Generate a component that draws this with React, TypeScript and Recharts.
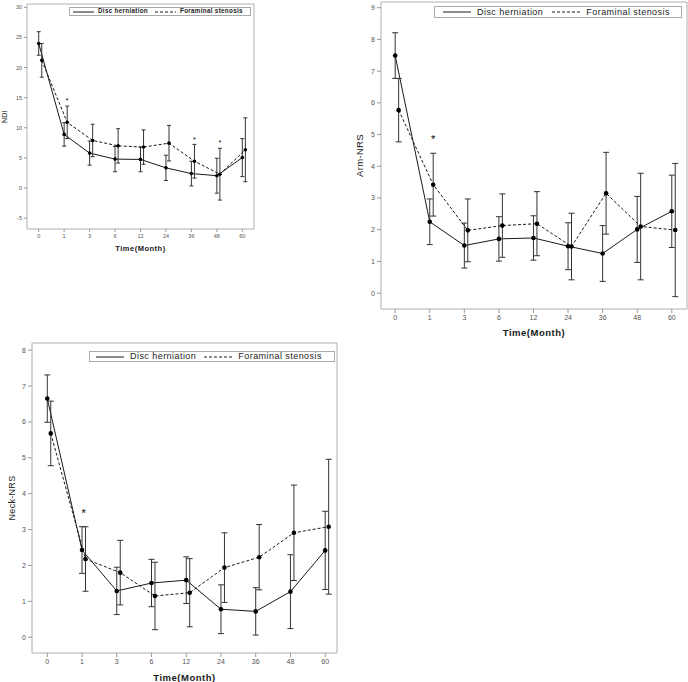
import { ComposedChart, Line, XAxis, YAxis, ErrorBar, ReferenceArea, Scatter } from "recharts";

const months = ["0", "1", "3", "6", "12", "24", "36", "48", "60"];

// NDI
const ndiDisc = [24.0, 8.9, 5.8, 4.8, 4.75, 3.35, 2.4, 2.05, 5.05];
const ndiDiscSd = [1.95, 1.95, 2.0, 2.1, 2.05, 2.1, 2.05, 2.9, 3.15];
const ndiForam = [21.2, 10.9, 7.9, 7.0, 6.8, 7.45, 4.45, 2.3, 6.35];
const ndiForamSd = [2.8, 2.7, 2.7, 2.85, 2.85, 2.95, 2.8, 4.3, 5.3];
const ndiStars = [{ x: 1.12, y: 14.6 }, { x: 6.12, y: 8.1 }, { x: 7.12, y: 7.7 }];

// Arm-NRS
const armDisc = [7.49, 2.25, 1.5, 1.71, 1.74, 1.48, 1.25, 2.01, 2.58];
const armDiscSd = [0.72, 0.72, 0.71, 0.7, 0.7, 0.74, 0.88, 1.04, 1.14];
const armForam = [5.77, 3.42, 1.98, 2.13, 2.19, 1.47, 3.15, 2.1, 1.99];
const armForamSd = [1.0, 0.99, 0.99, 1.0, 1.01, 1.05, 1.29, 1.68, 2.1];
const armStars = [{ x: 1.1, y: 4.88 }];

// Neck-NRS
const neckDisc = [6.65, 2.43, 1.29, 1.51, 1.59, 0.78, 0.72, 1.27, 2.42];
const neckDiscSd = [0.66, 0.65, 0.66, 0.66, 0.65, 0.68, 0.66, 1.03, 1.09];
const neckForam = [5.68, 2.18, 1.8, 1.15, 1.24, 1.94, 2.23, 2.91, 3.08];
const neckForamSd = [0.9, 0.9, 0.9, 0.94, 0.95, 0.97, 0.91, 1.33, 1.88];
const neckStars = [{ x: 1.05, y: 3.47 }];

const INK = "#1a1a1a";
const FONT = "'Liberation Sans', Arial, sans-serif";

function LegendBox({ left, top, width, height, font, bold, pad, lineW, gap, gap2 }: any) {
  const sample = (dash?: string) => (
    <svg width={lineW} height={4} style={{ display: "block" }}>
      <line x1={0} y1={2} x2={lineW} y2={2} stroke={INK} strokeWidth={1} strokeDasharray={dash} />
    </svg>
  );
  const txt = { fontSize: font, fontWeight: bold ? 700 : 400, letterSpacing: bold ? 0.3 : 0.45, color: INK, whiteSpace: "nowrap" as const };
  return (
    <div
      style={{
        position: "absolute", left, top, width, height, boxSizing: "border-box",
        border: "1px solid #aaa", background: "#fff", display: "flex", alignItems: "center",
        paddingLeft: pad, fontFamily: FONT, lineHeight: 1,
      }}
    >
      {sample()}
      <span style={{ ...txt, marginLeft: gap }}>Disc herniation</span>
      <span style={{ marginLeft: gap2 }}>{sample("3 2")}</span>
      <span style={{ ...txt, marginLeft: gap }}>Foraminal stenosis</span>
    </div>
  );
}

function Panel(p: any) {
  const disc = p.disc.map((y: number, i: number) => ({ x: i, y, err: p.discSd[i] }));
  const foram = p.foram.map((y: number, i: number) => ({ x: i + p.shift, y, err: p.foramSd[i] }));
  const tickStyle = { fill: "#555", fontSize: p.tickFont, fontFamily: FONT };
  return (
    <div style={{ position: "absolute", left: p.left, top: p.top, width: p.width, height: p.height }}>
      <ComposedChart width={p.width} height={p.height} margin={{ top: p.mTop, right: p.mRight, left: 0, bottom: 0 }}>
        <ReferenceArea
          x1={p.xDomain[0]} x2={p.xDomain[1]} y1={p.yDomain[0]} y2={p.yDomain[1]}
          fill="none" stroke="#b0b0b0" strokeWidth={1} ifOverflow="visible"
        />
        <XAxis
          type="number" dataKey="x" domain={p.xDomain} allowDataOverflow
          ticks={[0, 1, 2, 3, 4, 5, 6, 7, 8]} tickFormatter={(v: number) => months[v]}
          height={p.xAxisH} axisLine={false} tickLine={{ stroke: "#999" }} tickSize={p.tickSize}
          tickMargin={2} tick={tickStyle} interval={0}
          label={{
            value: "Time(Month)", position: "insideBottom", offset: p.xLabelOffset,
            style: { fontSize: p.titleFont, fontWeight: 700, fill: INK, letterSpacing: 0.5, fontFamily: FONT },
          }}
        />
        <YAxis
          type="number" dataKey="y" domain={p.yDomain} allowDataOverflow ticks={p.yTicks}
          width={p.yAxisW} axisLine={false} tickLine={{ stroke: "#999" }} tickSize={p.tickSize}
          tickMargin={2} tick={tickStyle} interval={0}
          label={{
            value: p.yTitle, angle: -90, position: "insideLeft", offset: p.yLabelOffset,
            style: { textAnchor: "middle", fontSize: p.yTitleFont, fill: INK, letterSpacing: 0.3, fontFamily: FONT },
          }}
        />
        <Line
          data={disc} dataKey="y" stroke={INK} strokeWidth={1} isAnimationActive={false}
          dot={{ r: p.dotR, fill: "#000", stroke: "#000", strokeWidth: 0 }} activeDot={false}
        >
          <ErrorBar dataKey="err" direction="y" width={p.cap} stroke="#333" strokeWidth={1} isAnimationActive={false} />
        </Line>
        <Line
          data={foram} dataKey="y" stroke={INK} strokeWidth={1} strokeDasharray="3 2" isAnimationActive={false}
          dot={{ r: p.dotR, fill: "#000", stroke: "#000", strokeWidth: 0, strokeDasharray: "" }} activeDot={false}
        >
          <ErrorBar dataKey="err" direction="y" width={p.cap} stroke="#333" strokeWidth={1} isAnimationActive={false} />
        </Line>
        <Scatter
          data={p.stars} dataKey="y" isAnimationActive={false}
          shape={(s: any) => (
            <text x={s.cx} y={s.cy + p.starFont * 0.42} textAnchor="middle" fontSize={p.starFont}
              fill="#000" stroke="none" fontFamily={FONT}>*</text>
          )}
        />
      </ComposedChart>
      <LegendBox {...p.legend} />
    </div>
  );
}

export default function App() {
  return (
    <div style={{ position: "absolute", left: 0, top: 0, width: 688, height: 682, background: "#fff" }}>
      <Panel
        left={0} top={0} width={262} height={256} mTop={4} mRight={8} yAxisW={27} xAxisH={27}
        xDomain={[-0.46, 8.46]} yDomain={[-6.8, 30.55]} yTicks={[-5, 0, 5, 10, 15, 20, 25, 30]}
        disc={ndiDisc} discSd={ndiDiscSd} foram={ndiForam} foramSd={ndiForamSd} shift={0.12}
        stars={ndiStars} yTitle="NDI" tickFont={5.5} titleFont={7.5} yTitleFont={7}
        tickSize={3} xLabelOffset={5} yLabelOffset={5} dotR={1.8} cap={2} starFont={7}
        legend={{ left: 69, top: 7, width: 182, height: 9, font: 6.3, bold: true, pad: 3, lineW: 21, gap: 4, gap2: 7 }}
      />
      <Panel
        left={345} top={0} width={343} height={338} mTop={2} mRight={1} yAxisW={36} xAxisH={29}
        xDomain={[-0.41, 8.44]} yDomain={[-0.5, 9.18]} yTicks={[0, 1, 2, 3, 4, 5, 6, 7, 8, 9]}
        disc={armDisc} discSd={armDiscSd} foram={armForam} foramSd={armForamSd} shift={0.1}
        stars={armStars} yTitle="Arm-NRS" tickFont={7} titleFont={9.5} yTitleFont={9.5}
        tickSize={4} xLabelOffset={2} yLabelOffset={15} dotR={2.3} cap={3} starFont={11}
        legend={{ left: 89, top: 6, width: 248, height: 12, font: 9, bold: false, pad: 8, lineW: 28, gap: 6, gap2: 9 }}
      />
      <Panel
        left={0} top={340} width={340} height={342} mTop={3} mRight={3} yAxisW={32} xAxisH={29}
        xDomain={[-0.44, 8.34]} yDomain={[-0.44, 8.2]} yTicks={[0, 1, 2, 3, 4, 5, 6, 7, 8]}
        disc={neckDisc} discSd={neckDiscSd} foram={neckForam} foramSd={neckForamSd} shift={0.1}
        stars={neckStars} yTitle="Neck-NRS" tickFont={7} titleFont={9.5} yTitleFont={9}
        tickSize={4} xLabelOffset={1} yLabelOffset={12} dotR={2.3} cap={3} starFont={11}
        legend={{ left: 89, top: 11, width: 246, height: 11, font: 9, bold: false, pad: 6, lineW: 28, gap: 6, gap2: 8 }}
      />
    </div>
  );
}
